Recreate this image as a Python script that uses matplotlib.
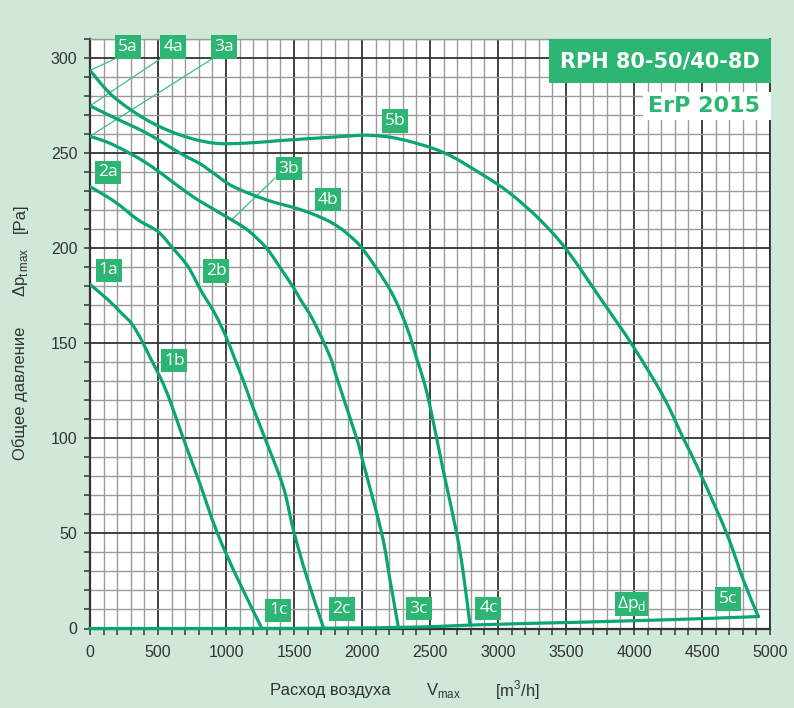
import matplotlib
matplotlib.use("Agg")
import matplotlib.pyplot as plt
from matplotlib.patches import Rectangle, PathPatch
from matplotlib.path import Path
from matplotlib.ticker import MultipleLocator

# ---------------- data ----------------
c1_x = [0, 132, 230, 304, 377, 451, 524, 586, 686, 809, 932, 1078, 1262]
c1_y = [181, 173, 166, 160.6, 152, 141.3, 131, 120.3, 100, 76, 51, 27.3, 0.3]

c2_x = [0, 181, 353, 500, 610, 721, 818, 917, 1000, 1064, 1127, 1200, 1287, 1421, 1495, 1593, 1716]
c2_y = [232.5, 224.6, 215, 208.8, 200, 190.4, 177.5, 165.9, 153.5, 142, 130.5, 116, 100, 74.5, 52, 27.3, 0.6]

c3_x = [0, 171, 417, 686, 809, 1042, 1170, 1299, 1397, 1495, 1544, 1642, 1765, 1814, 1961, 2000, 2145, 2206, 2267]
c3_y = [259, 254.5, 244.8, 230.8, 224.8, 215, 209, 200, 190, 179.5, 173.5, 162, 143, 132, 100, 89.6, 50, 25.5, 0.8]

c4_x = [0, 171, 417, 662, 809, 907, 1054, 1299, 1544, 1691, 1789, 1887, 2010, 2206, 2328, 2402, 2451, 2500, 2598, 2696, 2745, 2794]
c4_y = [275, 269, 260.6, 250.1, 244.5, 239.6, 232.5, 225.5, 220.5, 216.5, 213, 208, 199.2, 178.2, 158.8, 142, 131, 117, 83, 50.1, 29, 1.8]

c5_x = [0, 171, 417, 662, 907, 1152, 1397, 1838, 2050, 2279, 2598, 2892, 3088, 3309, 3505, 3750, 3995, 4216, 4363, 4485, 4681, 4804, 4914]
c5_y = [293.6, 279.9, 267.6, 259.7, 255.4, 255.4, 256.7, 258.8, 259.5, 257.5, 250.5, 238.5, 229, 215, 199.2, 174, 148.3, 122, 100, 82, 50.1, 25.5, 6.3]

pd_x = [0, 1000, 1640, 2132, 2500, 2794, 3235, 3603, 3995, 4338, 4583, 4914]
pd_y = [0, 0, 0.1, 0.4, 0.9, 1.8, 2.7, 3.3, 4.1, 4.8, 5.4, 6.3]

x_ticks = [0, 500, 1000, 1500, 2000, 2500, 3000, 3500, 4000, 4500, 5000]
y_ticks = [0, 50, 100, 150, 200, 250, 300]

label_texts = ['5a', '4a', '3a', '2a', '1a', '1b', '2b', '3b', '4b', '5b',
               '1c', '2c', '3c', '4c', 'Δp$_{\\mathregular{d}}$', '5c']
label_x = [277, 613, 985, 130, 137, 620, 929, 1462, 1748, 2243,
           1385, 1851, 2417, 2929, 3983, 4689]
label_y = [306, 306, 306, 240, 188.4, 141, 188, 242, 225.7, 267,
           9.6, 10.3, 10.4, 10.6, 12.9, 15.5]

# leader lines: (from label) -> (to curve)
leaders = [((178, 299.6), (0, 293.6)),
           ((515, 299.6), (0, 275)),
           ((895, 299.6), (0, 259)),
           ((1360, 237), (1042, 215))]

# ---------------- style ----------------
BG = '#cfe8d8'
CURVE = '#0aa574'
BOX = '#2db673'
LEAD = '#3cc07f'
DARK = '#333333'
GREY = '#9a9a9a'

W, H = 794, 708
fig = plt.figure(figsize=(W / 100, H / 100), dpi=100, facecolor=BG)
L, R, B, T = 90, 770, 628.5, 39.3
ax = fig.add_axes([L / W, 1 - B / H, (R - L) / W, (B - T) / H])
ax.set_facecolor('white')
ax.set_xlim(0, 5000)
ax.set_ylim(0, 310)

ax.xaxis.set_major_locator(MultipleLocator(500))
ax.xaxis.set_minor_locator(MultipleLocator(100))
ax.yaxis.set_major_locator(MultipleLocator(50))
ax.yaxis.set_minor_locator(MultipleLocator(10))
ax.set_xticks(x_ticks)
ax.set_yticks(y_ticks)
ax.set_xticklabels([str(v) for v in x_ticks])
ax.set_yticklabels([str(v) for v in y_ticks])

ax.grid(which='minor', color=GREY, lw=1.0, zorder=0)
ax.grid(which='major', color=DARK, lw=1.3, zorder=0.5)
ax.set_axisbelow(True)

for s in ['left', 'bottom']:
    ax.spines[s].set_color(DARK)
    ax.spines[s].set_linewidth(1.6)
ax.spines['right'].set_color(DARK)
ax.spines['right'].set_linewidth(1.3)
ax.spines['top'].set_color(GREY)
ax.spines['top'].set_linewidth(1.0)

ax.tick_params(which='both', direction='out', length=4, width=1.1, color=DARK)
ax.tick_params(axis='x', which='major', pad=8, labelsize=11.5, labelcolor=DARK)
ax.tick_params(axis='y', which='major', pad=5, labelsize=11.5, labelcolor=DARK)
for lab in ax.get_xticklabels() + ax.get_yticklabels():
    lab.set_fontfamily('Liberation Sans')


def smooth_path(xs, ys):
    """Cubic Bezier path passing through every read point (Catmull-Rom style)."""
    pts = list(zip(xs, ys))
    n = len(pts)
    verts = [pts[0]]
    codes = [Path.MOVETO]
    for i in range(n - 1):
        p0 = pts[i - 1] if i > 0 else pts[i]
        p1 = pts[i]
        p2 = pts[i + 1]
        p3 = pts[i + 2] if i + 2 < n else pts[i + 1]
        c1 = (p1[0] + (p2[0] - p0[0]) / 6, p1[1] + (p2[1] - p0[1]) / 6)
        c2 = (p2[0] - (p3[0] - p1[0]) / 6, p2[1] - (p3[1] - p1[1]) / 6)
        verts += [c1, c2, p2]
        codes += [Path.CURVE4] * 3
    return Path(verts, codes)


for xs, ys in [(c1_x, c1_y), (c2_x, c2_y), (c3_x, c3_y), (c4_x, c4_y), (c5_x, c5_y)]:
    ax.add_patch(PathPatch(smooth_path(xs, ys), facecolor='none', edgecolor=CURVE,
                           lw=2.3, capstyle='round', joinstyle='round', zorder=3))
ax.plot(pd_x, pd_y, color=CURVE, lw=2.3, zorder=3, clip_on=False)

for (x0, y0), (x1, y1) in leaders:
    ax.plot([x0, x1], [y0, y1], color=LEAD, lw=0.9, zorder=2.5, clip_on=False)

# label boxes (fixed pixel size)
px_x = 5000 / (R - L)
px_y = 310 / (B - T)
for t, x, y in zip(label_texts, label_x, label_y):
    wpx = 33 if 'Δ' in t else 26
    hpx = 23.5
    ax.add_patch(Rectangle((x - wpx / 2 * px_x, y - hpx / 2 * px_y), wpx * px_x, hpx * px_y,
                           facecolor=BOX, edgecolor='none', zorder=4, clip_on=False))
    ax.text(x, y, t, ha='center', va='center', color='white', fontsize=12.5,
            family='Open Sans', zorder=5, clip_on=False)

# title boxes
fig.patches.append(Rectangle((549 / W, 1 - 82.7 / H), 222 / W, 43.7 / H,
                             transform=fig.transFigure, facecolor=BOX, edgecolor='none', zorder=5))
fig.text(660 / W, 1 - 61.5 / H, 'RPH 80-50/40-8D', ha='center', va='center', color='white',
         fontsize=15, fontweight='bold', family='DejaVu Sans', zorder=6)
fig.patches.append(Rectangle((643 / W, 1 - 120 / H), 128 / W, 28.3 / H,
                             transform=fig.transFigure, facecolor='white', edgecolor='none', zorder=5))
fig.text(703.7 / W, 1 - 106 / H, 'ErP 2015', ha='center', va='center', color=BOX,
         fontsize=16, fontweight='bold', family='DejaVu Sans', zorder=6)

# axis labels
lab_kw = dict(color=DARK, family='Liberation Sans', fontsize=12)
fig.text(330 / W, 1 - 690 / H, 'Расход воздуха', ha='center', va='center', **lab_kw)
fig.text(444 / W, 1 - 690 / H, 'V$_{\\mathregular{max}}$', ha='center', va='center', **lab_kw)
fig.text(517 / W, 1 - 690 / H, '[m$^{\\mathregular{3}}$/h]', ha='center', va='center', **lab_kw)

fig.text(20 / W, 1 - 393 / H, 'Общее давление', ha='center', va='center', rotation=90, **lab_kw)
fig.text(20 / W, 1 - 272 / H, 'Δp$_{\\mathregular{t\\,max}}$', ha='center', va='center', rotation=90, **lab_kw)
fig.text(20 / W, 1 - 218 / H, '[Pa]', ha='center', va='center', rotation=90, **lab_kw)

fig.savefig('out.png', dpi=100, facecolor=BG)
